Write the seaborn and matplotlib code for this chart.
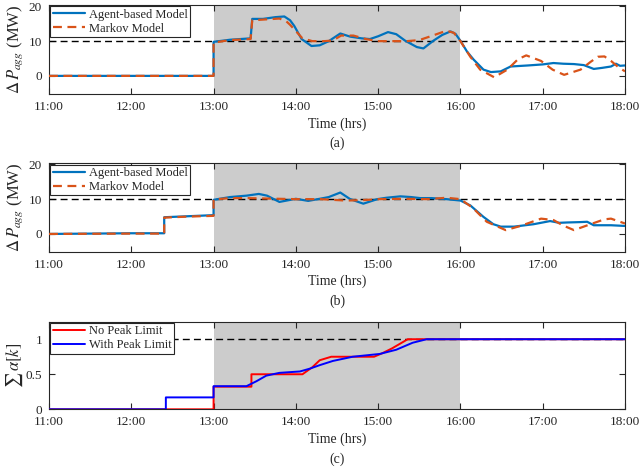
import matplotlib
matplotlib.use("Agg")
import matplotlib.pyplot as plt
import seaborn as sns
import numpy as np

# ---------------- data (hours, values) ----------------
# Panel (a)
a_agent_t = [11.0, 13.0, 13.0, 13.2, 13.45, 13.47, 13.6, 13.75, 13.86, 13.93, 13.98, 14.07, 14.19,
             14.29, 14.4, 14.54, 14.66, 14.8, 14.9, 15.0, 15.12, 15.22, 15.33, 15.47, 15.55, 15.67,
             15.78, 15.88, 15.94, 16.0, 16.08, 16.16, 16.28, 16.37, 16.49, 16.61, 16.82, 17.0,
             17.13, 17.25, 17.38, 17.5, 17.62, 17.72, 17.83, 17.89, 17.94, 18.0]
a_agent_v = [0.0, 0.0, 9.8, 10.4, 10.8, 16.4, 16.4, 16.9, 17.1, 16.0, 14.4, 10.6, 8.6,
             8.8, 10.0, 12.2, 11.3, 10.8, 10.6, 11.4, 12.6, 12.0, 10.1, 8.3, 7.9, 10.1,
             11.8, 12.8, 12.1, 10.1, 7.0, 4.7, 1.8, 1.1, 1.3, 2.7, 3.0, 3.3,
             3.7, 3.5, 3.4, 3.1, 2.0, 2.3, 2.7, 3.5, 2.9, 3.0]
a_markov_t = [11.0, 13.0, 13.0, 13.2, 13.45, 13.47, 13.6, 13.8, 13.88, 13.93, 14.08, 14.2,
              14.35, 14.45, 14.55, 14.7, 14.85, 15.0, 15.2, 15.35, 15.5, 15.65, 15.83, 15.92,
              16.0, 16.12, 16.24, 16.41, 16.57, 16.7, 16.8, 16.98, 17.12, 17.26, 17.46,
              17.58, 17.67, 17.75, 17.83, 17.92, 18.0]
a_markov_v = [0.0, 0.0, 9.6, 10.3, 10.6, 16.0, 16.2, 16.5, 15.8, 14.7, 10.8, 10.0,
              10.0, 10.2, 11.6, 11.6, 10.6, 10.0, 10.0, 10.0, 10.3, 11.5, 13.0, 12.4,
              10.0, 5.5, 1.8, -0.4, 1.8, 4.8, 5.9, 4.3, 1.8, 0.3, 1.8,
              4.0, 5.5, 5.6, 4.3, 2.5, 1.3]

# Panel (b)
b_agent_t = [11.0, 12.0, 12.4, 12.4, 12.7, 13.0, 13.0, 13.2, 13.4, 13.55, 13.65, 13.8, 14.0,
             14.15, 14.29, 14.4, 14.54, 14.66, 14.82, 14.99, 15.1, 15.27, 15.4, 15.51, 15.65,
             15.83, 16.0, 16.12, 16.28, 16.4, 16.49, 16.65, 16.89, 17.09, 17.2, 17.3, 17.45,
             17.54, 17.62, 17.83, 18.0]
b_agent_v = [0.0, 0.2, 0.2, 4.8, 5.1, 5.4, 9.8, 10.6, 11.0, 11.5, 11.0, 9.2, 10.1,
             9.5, 10.1, 10.6, 11.9, 10.0, 8.7, 10.0, 10.4, 10.8, 10.6, 10.3, 10.3,
             10.0, 9.6, 8.2, 4.9, 2.8, 2.1, 2.1, 2.8, 3.7, 3.2, 3.3, 3.4,
             3.5, 2.5, 2.5, 2.3]
b_markov_t = [11.0, 12.0, 12.4, 12.4, 12.7, 13.0, 13.0, 13.2, 13.4, 13.6, 13.8, 14.0, 14.3,
              14.6, 14.8, 15.0, 15.3, 15.6, 15.83, 16.0, 16.15, 16.32, 16.55, 16.73, 16.98,
              17.13, 17.25, 17.38, 17.58, 17.75, 17.83, 18.0]
b_markov_v = [0.0, 0.1, 0.1, 4.7, 5.0, 5.2, 9.9, 10.3, 10.3, 10.2, 10.1, 10.0, 10.0,
              9.6, 9.7, 10.0, 10.1, 10.0, 10.4, 10.0, 7.5, 3.5, 1.1, 2.3, 4.4,
              4.0, 2.4, 1.1, 2.8, 4.2, 4.4, 3.0]

# Panel (c)
c_nolim_t = [11.0, 13.0, 13.0, 13.46, 13.46, 14.08, 14.2, 14.29, 14.43, 14.95, 15.05, 15.17,
             15.36, 18.0]
c_nolim_v = [0.0, 0.0, 0.323, 0.323, 0.5, 0.5, 0.6, 0.70, 0.75, 0.75, 0.80, 0.87,
             1.0, 1.0]
c_lim_t = [11.0, 12.42, 12.42, 13.0, 13.0, 13.4, 13.52, 13.64, 13.8, 14.05, 14.17, 14.29,
           14.45, 14.69, 15.02, 15.22, 15.42, 15.59, 18.0]
c_lim_v = [0.0, 0.0, 0.17, 0.17, 0.33, 0.33, 0.40, 0.48, 0.52, 0.54, 0.58, 0.63,
           0.69, 0.75, 0.79, 0.85, 0.95, 1.0, 1.0]

xticks = [11, 12, 13, 14, 15, 16, 17, 18]
xtick_labels = ["11:00", "12:00", "13:00", "14:00", "15:00", "16:00", "17:00", "18:00"]

# ---------------- style ----------------
sns.set_theme(style="ticks")
plt.rcParams["font.family"] = ["Liberation Serif", "DejaVu Serif"]
plt.rcParams["mathtext.fontset"] = "stix"
plt.rcParams["axes.linewidth"] = 0.8
plt.rcParams["xtick.direction"] = "in"
plt.rcParams["ytick.direction"] = "in"

C_BLUE = "#0072BD"
C_ORANGE = "#D95319"
FS = 9.5
TXT = "#262626"

fig = plt.figure(figsize=(6.41, 4.70), dpi=100)
L, W = 49 / 641, 576 / 641
ax_a = fig.add_axes([L, 1 - 94.3 / 470, W, 89.3 / 470])
ax_b = fig.add_axes([L, 1 - 251.7 / 470, W, 88.4 / 470])
ax_c = fig.add_axes([L, 1 - 409.3 / 470, W, 87.6 / 470])


def style_axes(ax, ylim, yticks, yticklabels):
    ax.axvspan(13, 16, color="#CCCCCC", lw=0, zorder=0)
    ax.set_xlim(11, 18)
    ax.set_ylim(*ylim)
    ax.set_xticks(xticks)
    ax.set_xticklabels(xtick_labels, fontsize=FS)
    ax.set_yticks(yticks)
    ax.set_yticklabels(yticklabels, fontsize=FS)
    ax.tick_params(axis="both", which="both", direction="in", length=4, width=0.8,
                   top=True, right=True, pad=5, colors=TXT, labelcolor=TXT)
    for s in ax.spines.values():
        s.set_visible(True)
        s.set_color(TXT)
        s.set_linewidth(0.8)
    ax.set_xlabel("Time (hrs)", fontsize=FS + 0.5, labelpad=2, color=TXT)


def add_legend(ax):
    leg = ax.legend(loc="upper left", fontsize=9, frameon=True, fancybox=False,
                    edgecolor=TXT, framealpha=1, handlelength=2.6, handletextpad=0.3,
                    borderpad=0.2, labelspacing=0.15, borderaxespad=0.1)
    leg.get_frame().set_linewidth(0.8)
    leg.set_zorder(10)


# Panel (a)
style_axes(ax_a, (-5.3, 20.4), [0, 10, 20], ["0", "10", "20"])
ax_a.axhline(10, color="black", ls=(0, (5, 3)), lw=1.0, zorder=1)
sns.lineplot(x=a_agent_t, y=a_agent_v, ax=ax_a, color=C_BLUE, lw=1.6, estimator=None,
             sort=False, label="Agent-based Model", zorder=3)
sns.lineplot(x=a_markov_t, y=a_markov_v, ax=ax_a, color=C_ORANGE, lw=1.6, ls=(0, (4, 2.5)),
             estimator=None, sort=False, label="Markov Model", zorder=4)
ax_a.set_ylabel(r"$\Delta\,P_{agg}$ (MW)", fontsize=12, color=TXT)
add_legend(ax_a)

# Panel (b)
style_axes(ax_b, (-5.1, 20.3), [0, 10, 20], ["0", "10", "20"])
ax_b.axhline(10, color="black", ls=(0, (5, 3)), lw=1.0, zorder=1)
sns.lineplot(x=b_agent_t, y=b_agent_v, ax=ax_b, color=C_BLUE, lw=1.6, estimator=None,
             sort=False, label="Agent-based Model", zorder=3)
sns.lineplot(x=b_markov_t, y=b_markov_v, ax=ax_b, color=C_ORANGE, lw=1.6, ls=(0, (4, 2.5)),
             estimator=None, sort=False, label="Markov Model", zorder=4)
ax_b.set_ylabel(r"$\Delta\,P_{agg}$ (MW)", fontsize=12, color=TXT)
add_legend(ax_b)

# Panel (c)
style_axes(ax_c, (0, 1.25), [0, 0.5, 1], ["0", "0.5", "1"])
ax_c.axhline(1, color="black", ls=(0, (5, 3)), lw=1.0, zorder=1)
sns.lineplot(x=c_nolim_t, y=c_nolim_v, ax=ax_c, color="#FF0000", lw=1.4, estimator=None,
             sort=False, label="No Peak Limit", zorder=3)
sns.lineplot(x=c_lim_t, y=c_lim_v, ax=ax_c, color="#0000FF", lw=1.4, estimator=None,
             sort=False, label="With Peak Limit", zorder=4)
ax_c.set_ylabel(r"$\sum\,\alpha[k]$", fontsize=12, color=TXT)
add_legend(ax_c)

for ax in (ax_a, ax_b, ax_c):
    ax.yaxis.set_label_coords(-0.042, 0.5)
    ax.xaxis.set_label_coords(0.5, -0.26)

cx = L + W / 2
fig.text(cx, 1 - 143 / 470, "(a)", ha="center", va="center", fontsize=FS + 0.5, color=TXT)
fig.text(cx, 1 - 301 / 470, "(b)", ha="center", va="center", fontsize=FS + 0.5, color=TXT)
fig.text(cx, 1 - 459 / 470, "(c)", ha="center", va="center", fontsize=FS + 0.5, color=TXT)

fig.savefig("out.png", dpi=100)
